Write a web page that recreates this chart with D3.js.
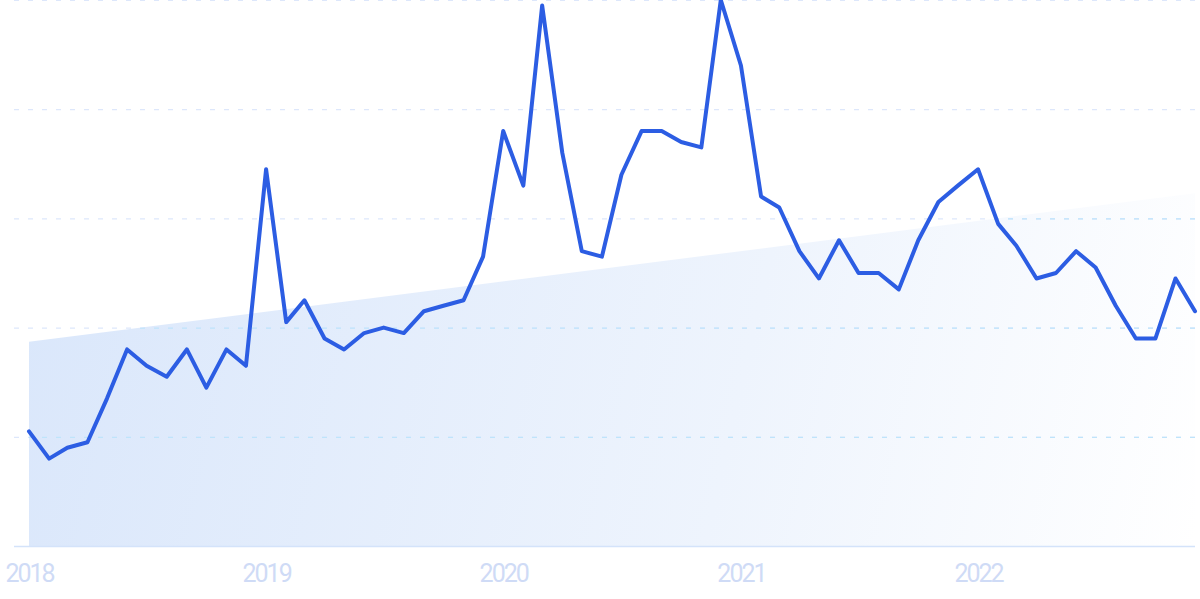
<!DOCTYPE html>
<html><head><meta charset="utf-8">
<script src="https://cdn.jsdelivr.net/npm/d3@7"></script>
<style>html,body{margin:0;padding:0;background:#fff;overflow:hidden}svg{display:block}</style>
</head><body>
<svg id="chart" width="1200" height="599"></svg>
<script>
const startYear = 2018;
const yearLabels = ["2018","2019","2020","2021","2022"];
const values = [21,16,18,19,27,36,33,31,36,29,36,33,
                69,41,45,38,36,39,40,39,43,44,45,53,
                76,66,99,72,54,53,68,76,76,74,73,100,
                88,64,62,54,49,56,50,50,47,56,63,66,
                69,59,55,49,50,54,51,44,38,38,49,43];
const trendValues = [37.4, 64.6];
const gridTicks = [0,20,40,60,80,100];

const svg = d3.select("#chart");
const dates = values.map((v,i)=>new Date(startYear, i, 1));
const x = d3.scaleTime().domain([dates[0], dates[dates.length-1]]).range([29, 1195]);
const y = d3.scaleLinear().domain([0,100]).range([546, 0]);

const defs = svg.append("defs");
const grad = defs.append("linearGradient").attr("id","areaGrad")
  .attr("gradientUnits","userSpaceOnUse")
  .attr("x1",29).attr("y1",280).attr("x2",1195).attr("y2",546);
grad.append("stop").attr("offset","0%").attr("stop-color","#dae7fb");
grad.append("stop").attr("offset","60%").attr("stop-color","#eef4fd");
grad.append("stop").attr("offset","100%").attr("stop-color","#ffffff");

const trend = [{d:dates[0], v:trendValues[0]},{d:dates[dates.length-1], v:trendValues[1]}];
const areaGen = d3.area().x(p=>x(p.d)).y0(y(0)).y1(p=>y(p.v));
const areaPath = areaGen(trend);
defs.append("clipPath").attr("id","areaClip").append("path").attr("d", areaPath);

svg.append("path").attr("d", areaPath).attr("fill","url(#areaGrad)");

function drawGrid(g, color){
  g.selectAll("line").data(gridTicks.filter(t=>t>0)).join("line")
    .attr("x1",14).attr("x2",1195)
    .attr("y1",t=>y(t)+0.5).attr("y2",t=>y(t)+0.5)
    .attr("stroke",color).attr("stroke-width",1.2)
    .attr("stroke-dasharray","5,9");
}
drawGrid(svg.append("g"), "#dde7fb");
drawGrid(svg.append("g").attr("clip-path","url(#areaClip)"), "#bfe4fb");

svg.append("line").attr("x1",14).attr("x2",1195)
  .attr("y1",y(0)+0.5).attr("y2",y(0)+0.5)
  .attr("stroke","#d4e3fa").attr("stroke-width",1.5);

const xAxis = d3.axisBottom(x)
  .tickValues(yearLabels.map(s=>new Date(+s,0,1)))
  .tickFormat(d=>String(d.getFullYear()))
  .tickSize(0).tickPadding(0);
const ax = svg.append("g").call(xAxis);
ax.select(".domain").remove();
ax.selectAll("text")
  .attr("y",582).attr("dy",null)
  .attr("fill","#cfdbf6")
  .attr("font-family","Roboto, 'Noto Sans', sans-serif")
  .attr("font-size",25)
  .attr("letter-spacing",-2)
  .attr("text-anchor","middle");

const lineGen = d3.line().x((v,i)=>x(dates[i])).y(v=>y(v));
svg.append("path").datum(values).attr("d", lineGen)
  .attr("fill","none").attr("stroke","#2c5de3")
  .attr("stroke-width",4).attr("stroke-linejoin","round").attr("stroke-linecap","round");
</script>
</body></html>
